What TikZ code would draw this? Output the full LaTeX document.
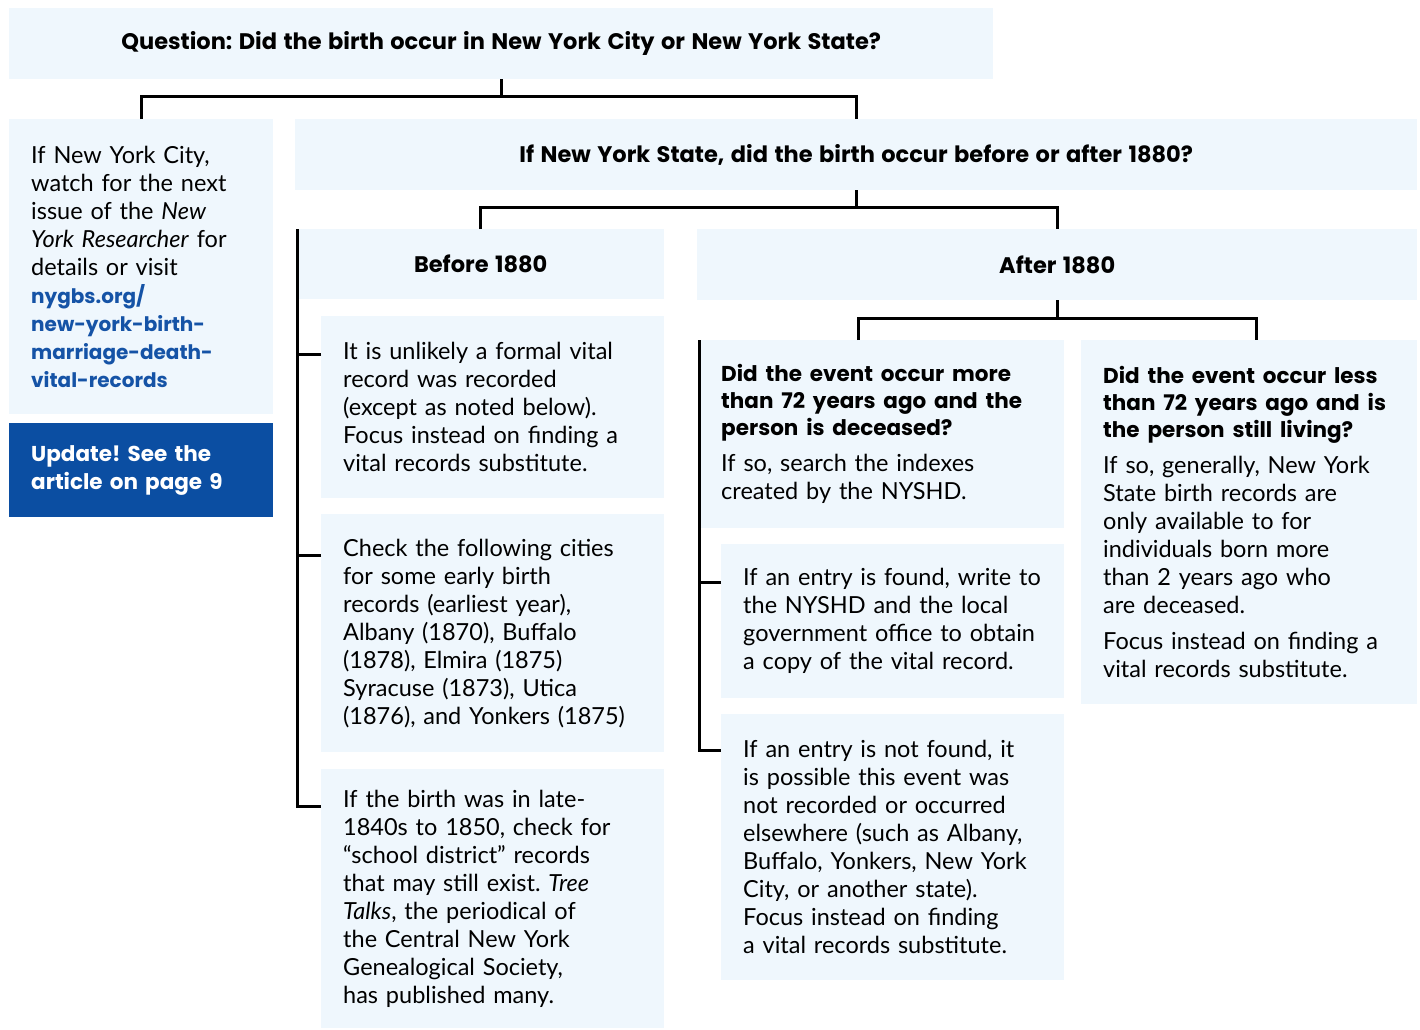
\documentclass[tikz,border=0pt]{standalone}
\usepackage{fontspec}
\setmainfont{Lato}
\newfontfamily\headfont{Poppins}[WordSpace=1.35]
\usetikzlibrary{calc}
\definecolor{paleblue}{RGB}{239,247,253}
\definecolor{darkblue}{RGB}{11,78,162}
\definecolor{linkblue}{RGB}{21,83,166}
\hyphenpenalty=10000
\exhyphenpenalty=10000
\frenchspacing
\newcommand\lnk[1]{{\headfont\bfseries\color{linkblue}\fontsize{20}{28}\selectfont #1}}
\newcommand\qhead[1]{{\headfont\bfseries\fontsize{21.5}{27}\selectfont #1\par}\vspace{8pt}}
\tikzset{
	box/.style={fill=paleblue, anchor=north west, inner xsep=22pt, inner ysep=0pt, align=left, font=\fontsize{23.5}{28}\selectfont},
	head/.style={fill=paleblue, anchor=north west, inner sep=0pt, align=center, font=\headfont\bfseries\fontsize{22.5}{28}\selectfont},
	branch/.style={line width=3pt},
}

\begin{document}
\begin{tikzpicture}[x=1pt, y=-1pt]
		%%%%% START %%%%%
		\useasboundingbox (0,0) rectangle (1420,1029);
		
		\node[head, minimum width=984pt, minimum height=71pt] (q) at (9,8) {Question: Did the birth occur in New York City or New York State?};
		
		\node[box, text width=220pt, minimum height=295pt] (nyc) at (9,119) {If New York City,\\watch for the next\\issue of the \textit{New}\\\textit{York Researcher} for\\details or visit\\\lnk{nygbs.org/}\\\lnk{new-york-birth-}\\\lnk{marriage-death-}\\\lnk{vital-records}};
		\node[box, fill=darkblue, text=white, text width=220pt, minimum height=94pt, font=\headfont\bfseries\fontsize{21.5}{28}\selectfont] (upd) at (9,423) {Update! See the\\article on page 9};
		
		\node[head, minimum width=1122pt, minimum height=71pt] (nys) at (295,119) {If New York State, did the birth occur before or after 1880?};
		
		\node[head, minimum width=367pt, minimum height=70pt] (before) at (297,229) {Before 1880};
		\node[head, minimum width=720pt, minimum height=71pt] (after) at (697,229) {After 1880};
		
		% before 1880
		\node[box, text width=299pt, minimum height=182pt] (b1) at (321,316) {It is unlikely a formal vital\\record was recorded\\(except as noted below).\\Focus instead on finding a\\vital records substitute.};
		\node[box, text width=299pt, minimum height=238pt] (b2) at (321,514) {Check the following cities\\for some early birth\\records (earliest year),\\Albany (1870), Buffalo\\(1878), Elmira (1875)\\Syracuse (1873), Utica\\(1876), and Yonkers (1875)};
		\node[box, text width=299pt, minimum height=259pt] (b3) at (321,769) {If the birth was in late-\\1840s to 1850, check for\\``school district'' records\\that may still exist. \textit{Tree}\\\textit{Talks}, the periodical of\\the Central New York\\Genealogical Society,\\has published many.};
		
		% after 1880
		\node[box, text width=321pt, minimum height=188pt] (a1) at (699,340) {\qhead{Did the event occur more\\than 72 years ago and the\\person is deceased?}If so, search the indexes\\created by the NYSHD.};
		\node[box, text width=299pt, minimum height=154pt] (a2) at (721,544) {If an entry is found, write to\\the NYSHD and the local\\government office to obtain\\a copy of the vital record.};
		\node[box, text width=299pt, minimum height=266pt] (a3) at (721,714) {If an entry is not found, it\\is possible this event was\\not recorded or occurred\\elsewhere (such as Albany,\\Buffalo, Yonkers, New York\\City, or another state).\\Focus instead on finding\\a vital records substitute.};
		\node[box, text width=292pt, minimum height=364pt] (a4) at (1081,340) {\qhead{Did the event occur less\\than 72 years ago and is\\the person still living?}If so, generally, New York\\State birth records are\\only available to for\\individuals born more\\than 2 years ago who\\are deceased.\par\vspace{8pt}Focus instead on finding a\\vital records substitute.};
		
		% connectors
		\draw[branch] (q.south) -- ++(0,17) coordinate (qs);
		\draw[branch] (nyc.north) |- (qs) -| (nys.north);
		
		\draw[branch] (nys.south) -- ++(0,17) coordinate (ns);
		\draw[branch] (before.north) |- (ns) -| (after.north);
		
		\draw[branch] (after.south) -- ++(0,18) coordinate (as);
		\draw[branch] ([xshift=-23pt]a1.north) |- (as) -| ([xshift=7pt]a4.north);
		
		\draw[branch] (before.north west) |- ([yshift=-37pt]b3.north west);
		\draw[branch] ([yshift=-38pt]b1.north west) -- +(-24,0);
		\draw[branch] ([yshift=-41pt]b2.north west) -- +(-24,0);
		
		\draw[branch] (a1.north west) |- ([yshift=-36pt]a3.north west);
		\draw[branch] ([yshift=-38pt]a2.north west) -- +(-22,0);
		
		%%%%% END %%%%%
\end{tikzpicture}
\end{document}
